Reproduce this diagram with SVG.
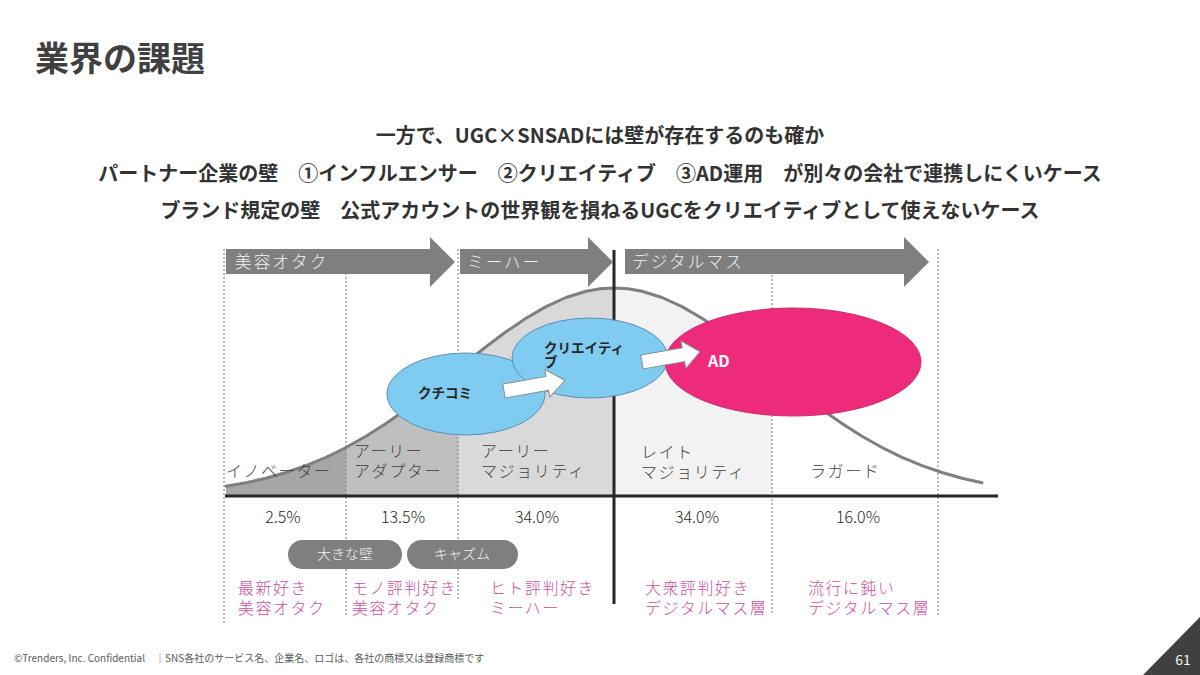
<svg xmlns="http://www.w3.org/2000/svg" width="1200" height="675" viewBox="0 0 1200 675">
<style>
  text { font-family: "Noto Sans CJK JP", "Noto Sans", sans-serif; }
  .title { font-size: 34px; font-weight: 700; fill: #404040; }
  .sub { font-size: 20px; font-weight: 700; fill: #333333; text-anchor: middle; }
  .band { fill: #7f7f7f; }
  .bandtxt { font-size: 16.5px; font-weight: 300; fill: #f2f2f2; letter-spacing: 2.2px; }
  .dot { stroke: #8c8c8c; stroke-width: 1.2; stroke-dasharray: 2 2; fill: none; }
  .seg { font-size: 16px; font-weight: 300; fill: #404040; letter-spacing: 1.6px; }
  .pct { font-size: 16px; font-weight: 300; fill: #262626; text-anchor: middle; }
  .pill { fill: #7f7f7f; }
  .pilltxt { font-size: 14px; font-weight: 300; fill: #f2f2f2; text-anchor: middle; }
  .pink { font-size: 16px; font-weight: 300; fill: #c9509a; letter-spacing: 1.5px; }
  .blue { fill: #80ccf0; stroke: #5a8fb5; stroke-width: 1; }
  .lbl { font-size: 13.5px; font-weight: 700; fill: #262626; }
  .warrow { fill: #ffffff; stroke: #8c8c8c; stroke-width: 1; }
  .foot { font-size: 10px; fill: #595959; }
</style>

<rect x="0" y="0" width="1200" height="675" fill="#ffffff"/>

<g id="title"><text class="title" x="35" y="71">業界の課題</text></g>

<g id="subtitle">
  <text class="sub" x="600" y="143">一方で、UGC×SNSADには壁が存在するのも確か</text>
  <text class="sub" x="600" y="181">パートナー企業の壁　①インフルエンサー　②クリエイティブ　③AD運用　が別々の会社で連携しにくいケース</text>
  <text class="sub" x="600" y="218">ブランド規定の壁　公式アカウントの世界観を損ねるUGCをクリエイティブとして使えないケース</text>
</g>

<g id="curve-fills">
  <path fill="#a6a6a6" d="M226,496 L226,486.2 L246,482.7 L266,478.2 L286,472.5 L306,465.6 L326,457.3 L346,447.5 L346,496 Z"/>
  <path fill="#bfbfbf" d="M346,496 L346,447.5 L366,436.3 L386,423.5 L406,409.5 L426,394.5 L446,378.7 L458,369 L458,496 Z"/>
  <path fill="#d9d9d9" d="M458,496 L458,369 L466,362.6 L486,346.8 L506,331.8 L526,318.2 L546,306.6 L566,297.5 L586,291.3 L600,288.8 L614,288 L614,496 Z"/>
  <path fill="#f2f2f2" d="M614,496 L614,288 L628,288.8 L642,291.3 L662,297.5 L682,306.6 L702,318.2 L722,331.8 L742,346.8 L762,362.6 L772,370.6 L772,496 Z"/>
</g>

<g id="dotted-lines">
  <line class="dot" x1="224" y1="249" x2="224" y2="625"/>
  <line class="dot" x1="346" y1="249" x2="346" y2="615"/>
  <line class="dot" x1="458" y1="249" x2="458" y2="600"/>
  <line class="dot" x1="772" y1="275" x2="772" y2="615"/>
  <line class="dot" x1="938" y1="249" x2="938" y2="615"/>
</g>

<g id="bell-curve">
  <path fill="none" stroke="#7f7f7f" stroke-width="3" stroke-linejoin="round" stroke-linecap="round" d="M226,486.2 L246,482.7 L266,478.2 L286,472.5 L306,465.6 L326,457.3 L346,447.5 L366,436.3 L386,423.5 L406,409.5 L426,394.5 L446,378.7 L466,362.6 L486,346.8 L506,331.8 L526,318.2 L546,306.6 L566,297.5 L586,291.3 L600,288.8 L614,288 L628,288.8 L642,291.3 L662,297.5 L682,306.6 L702,318.2 L722,331.8 L742,346.8 L762,362.6 L782,378.7 L802,394.5 L822,409.5 L842,423.5 L862,436.3 L882,447.5 L902,457.3 L922,465.6 L942,472.5 L962,478.2 L982,482.7"/>
</g>

<g id="axis">
  <line x1="225" y1="496" x2="998" y2="496" stroke="#262626" stroke-width="3"/>
  <line x1="614" y1="250" x2="614" y2="604" stroke="#262626" stroke-width="3"/>
</g>

<g id="band-beauty">
  <path class="band" d="M226,249 H430 V237 L455,262 L430,287 V274 H226 Z"/>
  <text class="bandtxt" x="235" y="268">美容オタク</text>
</g>
<g id="band-miha">
  <path class="band" d="M460,249 H588 V237 L613,262 L588,287 V274 H460 Z"/>
  <text class="bandtxt" x="467" y="268">ミーハー</text>
</g>
<g id="band-digital">
  <path class="band" d="M625,249 H904 V237 L929,262 L904,287 V274 H625 Z"/>
  <text class="bandtxt" x="632" y="268">デジタルマス</text>
</g>

<g id="segment-labels">
  <text class="seg" x="226" y="477">イノベーター</text>
  <text class="seg" x="354" y="457">アーリー</text>
  <text class="seg" x="354" y="477">アダプター</text>
  <text class="seg" x="481" y="457">アーリー</text>
  <text class="seg" x="481" y="477">マジョリティ</text>
  <text class="seg" x="641" y="458">レイト</text>
  <text class="seg" x="641" y="478">マジョリティ</text>
  <text class="seg" x="810" y="477">ラガード</text>
</g>

<g id="node-kuchikomi">
  <ellipse class="blue" cx="466" cy="394" rx="79" ry="41"/>
  <text class="lbl" x="418" y="398">クチコミ</text>
</g>
<g id="node-creative">
  <ellipse class="blue" cx="590" cy="358" rx="78" ry="40"/>
  <text class="lbl" x="544" y="353">クリエイティ</text>
  <text class="lbl" x="544" y="367">ブ</text>
</g>
<g id="node-ad">
  <ellipse cx="793" cy="362" rx="128" ry="54" fill="#ee2a7b" stroke="#c8306c" stroke-width="1"/>
  <text x="708" y="367" font-size="16" font-weight="700" fill="#ffffff">AD</text>
</g>

<g id="connectors">
  <path class="warrow" transform="translate(504,391) rotate(-10)" d="M0,-7 H44 V-14 L62,0 L44,14 V7 H0 Z"/>
  <path class="warrow" transform="translate(642,362) rotate(-10)" d="M0,-7 H42 V-14 L59,0 L42,14 V7 H0 Z"/>
</g>

<g id="percentages">
  <text class="pct" x="283" y="523">2.5%</text>
  <text class="pct" x="403" y="523">13.5%</text>
  <text class="pct" x="537" y="523">34.0%</text>
  <text class="pct" x="697" y="523">34.0%</text>
  <text class="pct" x="858" y="523">16.0%</text>
</g>

<g id="pill-wall">
  <rect class="pill" x="288" y="540" width="114" height="29" rx="14.5"/>
  <text class="pilltxt" x="345" y="559">大きな壁</text>
</g>
<g id="pill-chasm">
  <rect class="pill" x="407" y="540" width="111" height="29" rx="14.5"/>
  <text class="pilltxt" x="462" y="559">キャズム</text>
</g>

<g id="persona-labels">
  <text class="pink" x="238" y="594">最新好き</text>
  <text class="pink" x="238" y="614">美容オタク</text>
  <text class="pink" x="352" y="594">モノ評判好き</text>
  <text class="pink" x="352" y="614">美容オタク</text>
  <text class="pink" x="490" y="594">ヒト評判好き</text>
  <text class="pink" x="490" y="614">ミーハー</text>
  <text class="pink" x="645" y="594">大衆評判好き</text>
  <text class="pink" x="645" y="614">デジタルマス層</text>
  <text class="pink" x="808" y="594">流行に鈍い</text>
  <text class="pink" x="808" y="614">デジタルマス層</text>
</g>

<g id="footer">
  <text class="foot" x="14" y="662">©Trenders, Inc. Confidential　｜SNS各社のサービス名、企業名、ロゴは、各社の商標又は登録商標です</text>
  <polygon points="1200,617 1200,675 1143,675" fill="#404040"/>
  <text x="1183" y="665" font-size="14" fill="#f2f2f2" text-anchor="middle">61</text>
</g>
</svg>
